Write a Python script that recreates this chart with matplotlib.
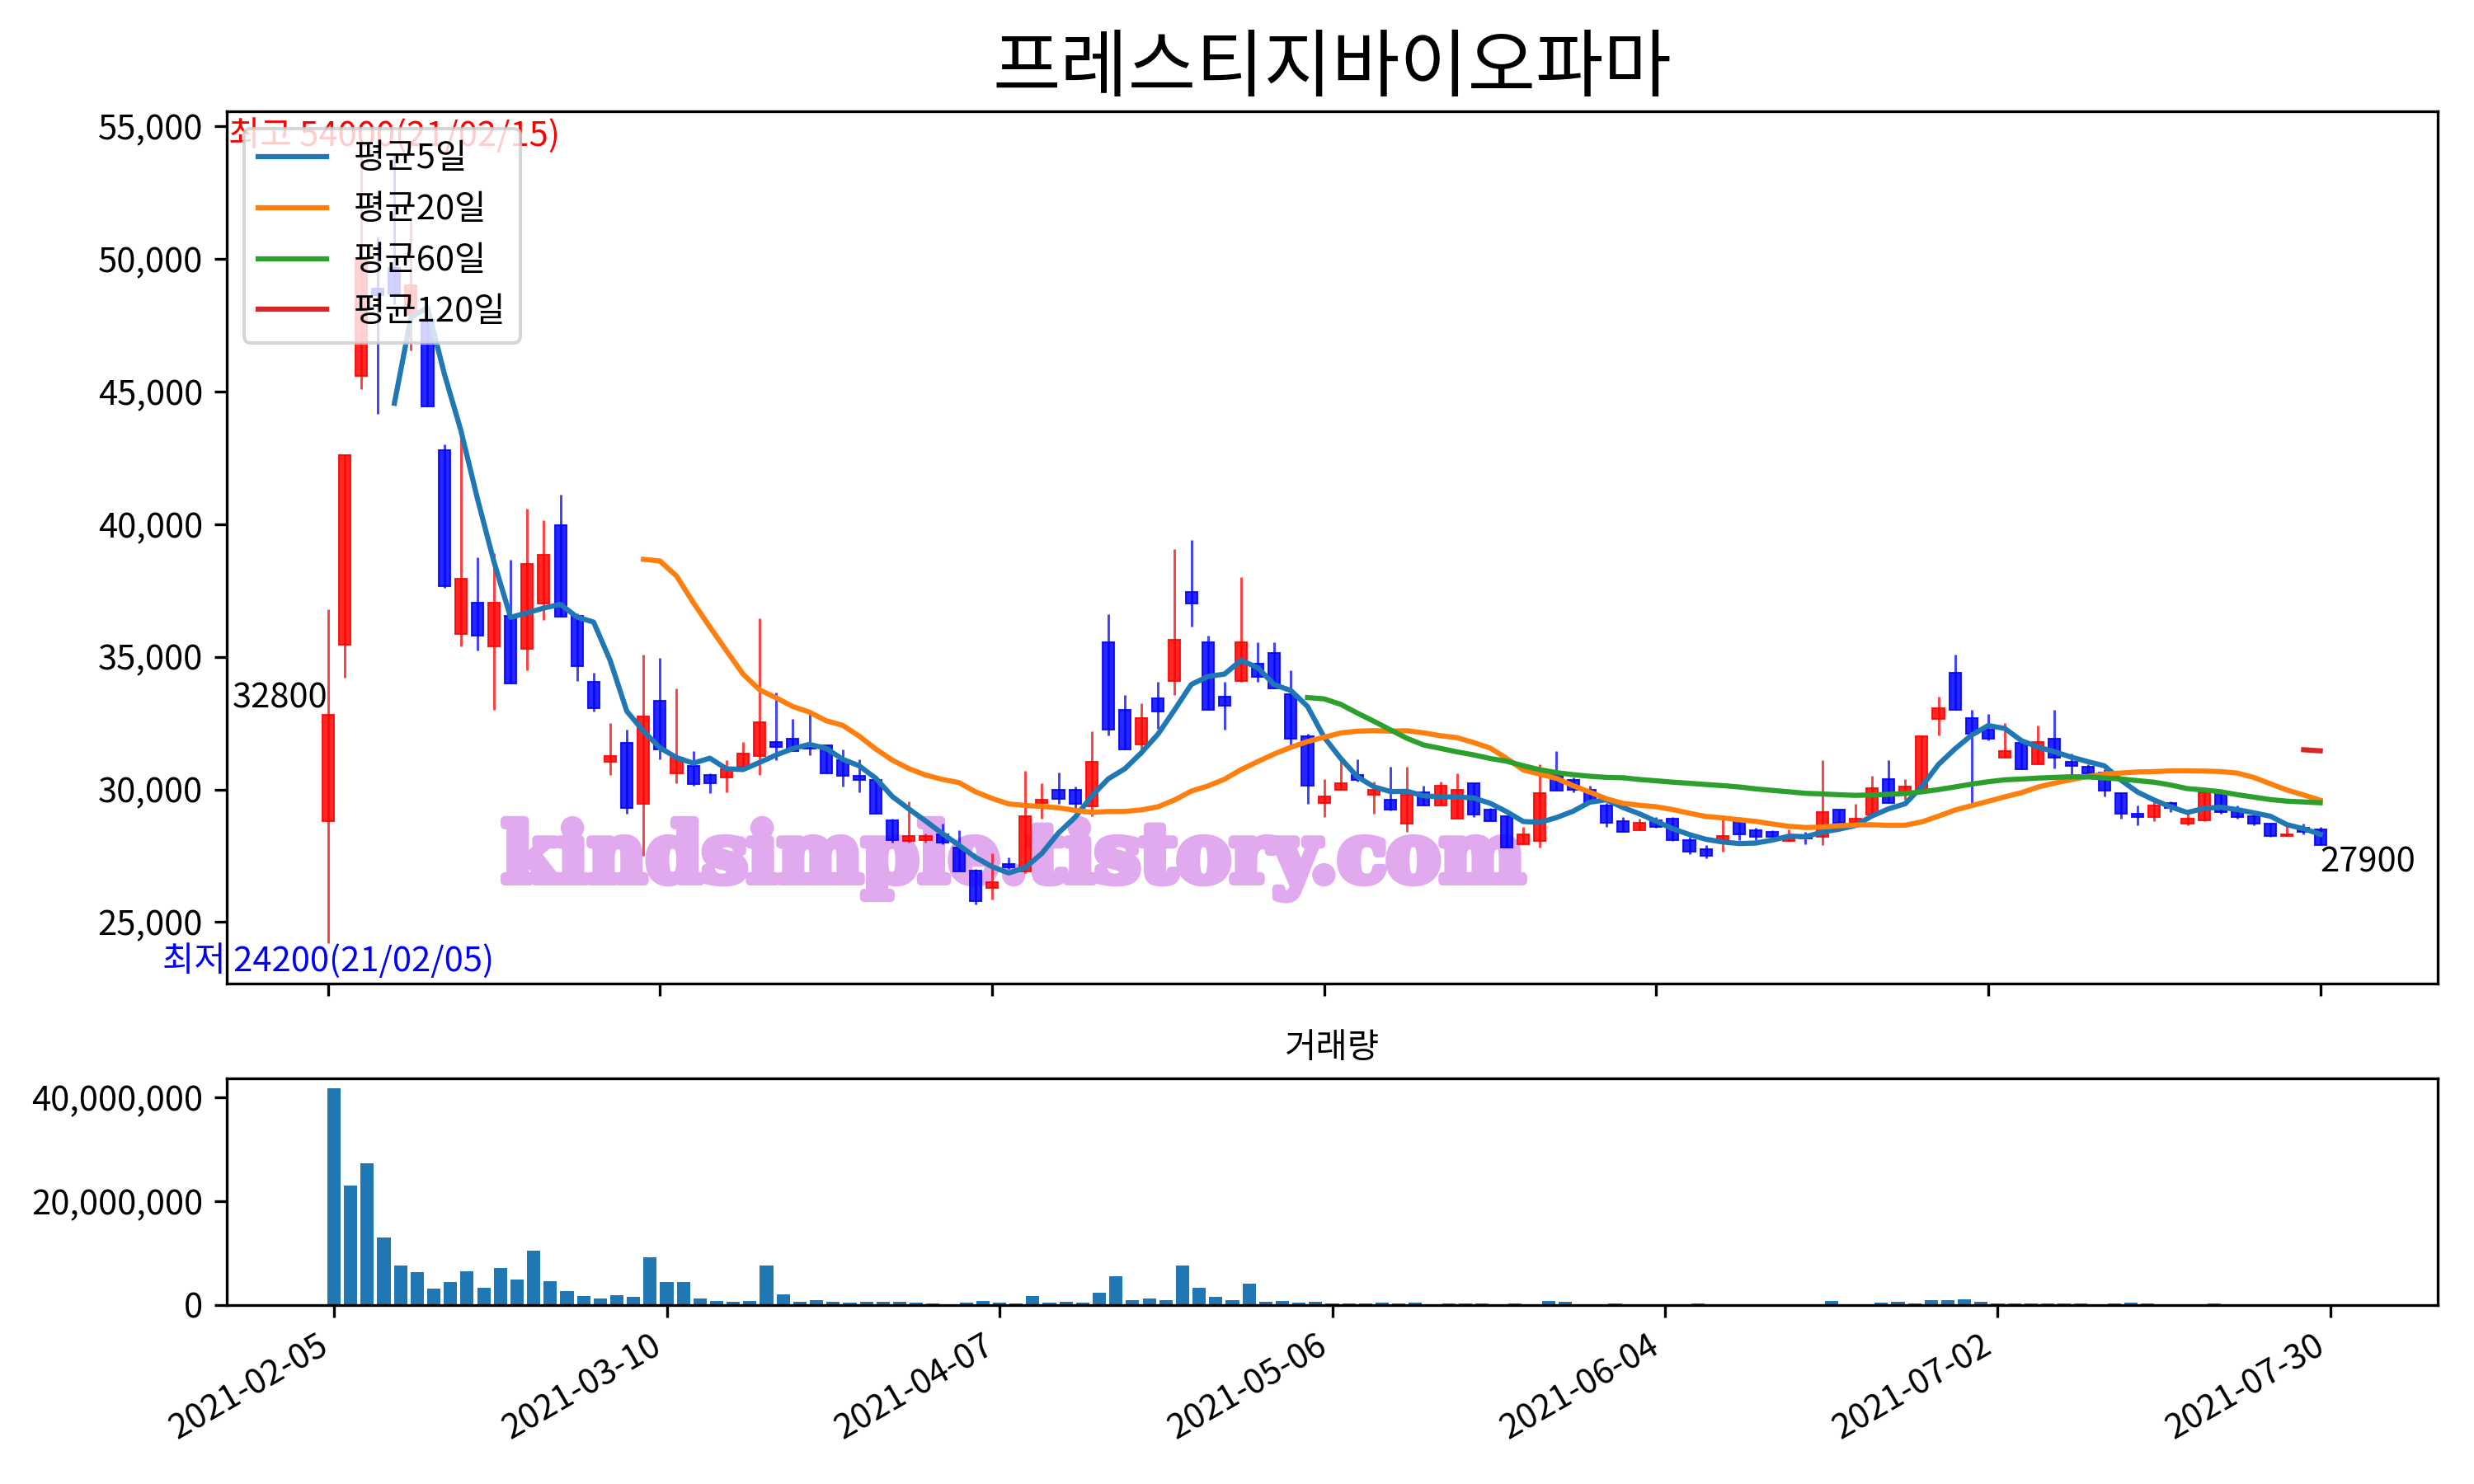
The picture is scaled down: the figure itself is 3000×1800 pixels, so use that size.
import matplotlib
matplotlib.use('Agg')
import matplotlib.pyplot as plt
import matplotlib.patheffects as pe
import numpy as np
import pandas as pd
from matplotlib.ticker import FuncFormatter

plt.rcParams['font.family'] = ['Noto Sans CJK KR', 'DejaVu Sans']
plt.rcParams['axes.unicode_minus'] = False

# ---------------- data ----------------
title = '프레스티지바이오파마'
volume_title = '거래량'
opens = [28800, 35450, 45600, 48900, 49650, 47900, 47700, 42800, 35850, 37050,
         35400, 36550, 35300, 37000, 39950, 36550, 34050, 31050, 31750, 29450,
         33350, 30600, 30900, 30550, 30450, 30850, 31250, 31800, 31900, 31700,
         31650, 31100, 30500, 30350, 28850, 28050, 28100, 28300, 27800, 26950,
         26300, 27200, 26900, 29500, 30000, 30000, 29350, 35550, 33000, 31700,
         33450, 34100, 37450, 35550, 33500, 34100, 34750, 35150, 33600, 32000,
         29500, 30000, 30550, 29800, 29600, 28700, 29900, 29400, 28900, 30250,
         29250, 29000, 27950, 28050, 30550, 30350, 30000, 29400, 28800, 28450,
         28850, 28900, 28100, 27750, 28100, 28900, 28450, 28400, 28050, 28250,
         28200, 29250, 28750, 29050, 30400, 29900, 30000, 32650, 34400, 32700,
         32250, 31200, 31750, 30950, 31900, 31050, 30850, 30650, 29850, 29100,
         28950, 29500, 28700, 28850, 29900, 29250, 29000, 28700, 28250, 28550,
         28500]
highs = [36800, 42600, 53900, 50850, 54000, 51600, 48100, 43000, 43400, 38750,
         38900, 38650, 40600, 40150, 41100, 36650, 34400, 32500, 32250, 35100,
         34950, 33800, 31450, 30600, 31100, 31800, 36450, 33650, 32650, 32850,
         31650, 31500, 31150, 30350, 28900, 29550, 28350, 28700, 28450, 27000,
         27600, 27450, 30700, 30250, 30650, 30100, 32200, 36600, 33550, 33250,
         34050, 39050, 39400, 35800, 34050, 38000, 35550, 35550, 34500, 32100,
         30400, 31100, 31150, 30300, 30850, 30850, 30150, 30300, 30600, 30250,
         29300, 29000, 28600, 30950, 31450, 30450, 30150, 29500, 28950, 28900,
         28950, 28950, 28200, 27900, 28900, 28950, 28550, 28450, 28500, 28400,
         31100, 29250, 29450, 30500, 31100, 30400, 32050, 33500, 35100, 33000,
         32850, 32500, 31750, 32400, 33000, 31350, 30950, 30750, 29850, 29400,
         29650, 29550, 29250, 30050, 29900, 29400, 29050, 28750, 28700, 28700,
         28600]
lows = [24200, 34200, 45100, 44150, 48300, 46550, 44450, 37600, 35400, 35250,
        33000, 34000, 34500, 36400, 36500, 34100, 32950, 30550, 29100, 27500,
        31150, 30250, 30150, 29850, 29900, 30850, 30550, 31100, 31450, 31300,
        30600, 30100, 29900, 29100, 28000, 28000, 28000, 27950, 26900, 25650,
        25850, 27000, 26850, 28900, 29450, 29300, 29000, 32050, 31500, 31300,
        32300, 33550, 36150, 33000, 32250, 34050, 34050, 33800, 31650, 29450,
        28950, 30000, 30300, 29100, 29200, 28400, 29400, 29400, 28900, 28950,
        28800, 27800, 27950, 27800, 29950, 29900, 29500, 28600, 28400, 28450,
        28550, 28050, 27550, 27400, 27650, 28100, 28100, 28200, 28050, 27950,
        27900, 28750, 28750, 28950, 29500, 29600, 30000, 32050, 33000, 29500,
        31850, 31200, 30750, 30950, 30800, 30500, 30600, 29750, 28900, 28650,
        28800, 29150, 28650, 28800, 29100, 28900, 28650, 28200, 28250, 28300,
        27900]
closes = [32800, 42600, 50050, 48650, 48700, 49000, 44450, 37650, 37950, 35800,
          37050, 34000, 38500, 38850, 36500, 34650, 33050, 31250, 29300, 32750,
          31500, 31200, 30200, 30250, 30750, 31350, 32550, 31600, 31450, 31550,
          30600, 30500, 30350, 29100, 28100, 28250, 28250, 28000, 26900, 25800,
          26500, 27050, 29000, 29600, 29650, 29450, 31050, 32250, 31500, 32700,
          32950, 35650, 37000, 33000, 33150, 35550, 34250, 33800, 31900, 30150,
          29750, 30250, 30350, 30000, 29250, 29800, 29400, 30150, 30000, 29050,
          28800, 27800, 28300, 29850, 29950, 30000, 29500, 28750, 28400, 28750,
          28600, 28100, 27650, 27500, 28250, 28300, 28200, 28200, 28250, 28150,
          29150, 28750, 28900, 30050, 29500, 30100, 32000, 33050, 33000, 32100,
          31900, 31450, 30750, 31800, 31200, 30900, 30600, 29950, 29100, 28950,
          29400, 29300, 28900, 29900, 29150, 28950, 28700, 28250, 28300, 28400,
          27900]
volumes = [41700000, 22900000, 27200000, 13000000, 7600000, 6300000, 3100000, 4400000, 6500000, 3300000,
           7100000, 4900000, 10500000, 4600000, 2700000, 1700000, 1200000, 1900000, 1500000, 9200000,
           4400000, 4400000, 1200000, 740000, 580000, 740000, 7600000, 2000000, 580000, 900000,
           580000, 420000, 580000, 580000, 580000, 420000, 270000, 120000, 420000, 740000,
           420000, 270000, 1700000, 420000, 580000, 420000, 2340000, 5520000, 900000, 1220000,
           900000, 7600000, 3290000, 1540000, 900000, 4090000, 580000, 740000, 420000, 580000,
           250000, 250000, 250000, 400000, 250000, 400000, 100000, 250000, 250000, 250000,
           100000, 250000, 100000, 740000, 580000, 60000, 60000, 250000, 60000, 60000,
           60000, 60000, 250000, 60000, 60000, 60000, 60000, 60000, 60000, 60000,
           740000, 60000, 60000, 400000, 580000, 250000, 900000, 900000, 1060000, 580000,
           250000, 250000, 250000, 250000, 250000, 250000, 100000, 250000, 400000, 250000,
           60000, 60000, 60000, 250000, 60000, 60000, 60000, 60000, 60000, 60000,
           60000]
tick_pos = [0, 20, 40, 60, 80, 100, 120]
tick_labels = ['2021-02-05', '2021-03-10', '2021-04-07', '2021-05-06',
               '2021-06-04', '2021-07-02', '2021-07-30']
ma_windows = [5, 20, 60, 120]
ma_labels = ['평균5일', '평균20일', '평균60일', '평균120일']
ma_colors = ['tab:blue', 'tab:orange', 'tab:green', 'tab:red']
high_label = '최고 54000(21/02/15)'
high_idx, high_val = 4, 54000
low_label = '최저 24200(21/02/05)'
low_idx, low_val = 0, 24200
watermark = 'kindsimple.tistory.com'

# ---------------- figure ----------------
fig = plt.figure(figsize=(10, 6), dpi=300)
ax = fig.add_axes([0.0917, 0.3372, 0.8936, 0.5878])
axv = fig.add_axes([0.0917, 0.1207, 0.8936, 0.1526])

x = np.arange(len(closes))
o = np.array(opens, dtype=float)
h = np.array(highs, dtype=float)
l = np.array(lows, dtype=float)
c = np.array(closes, dtype=float)
cols = np.where(c >= o, 'r', 'b')

ax.vlines(x, l, h, colors=cols, linewidth=0.7, alpha=0.75, zorder=2)
ax.bar(x, c - o, bottom=o, width=0.7, color=cols, edgecolor=cols,
       linewidth=0.5, alpha=0.85, zorder=2.1)

s = pd.Series(c)
for w, lab, col in zip(ma_windows, ma_labels, ma_colors):
    ax.plot(x, s.rolling(w).mean(), color=col, label=lab, linewidth=1.5, zorder=3)

ax.text(high_idx, high_val, high_label, color='red', ha='center', va='bottom', fontsize=10)
ax.text(low_idx, low_val, low_label, color='blue', ha='center', va='top', fontsize=10)
ax.text(x[0], c[0], f'{closes[0]}', color='black', ha='right', va='bottom', fontsize=10)
ax.text(x[-1], c[-1], f'{closes[-1]}', color='black', ha='left', va='top', fontsize=10)

wm_color = '#E2AAEE'
ax.text(0.356, 0.142, watermark, transform=ax.transAxes, ha='center', va='center',
        fontsize=23.3, family='DejaVu Serif', fontweight='bold', color=wm_color, zorder=1.5,
        path_effects=[pe.withStroke(linewidth=2.5, foreground=wm_color)])

ax.legend(loc='upper left', fontsize=10)
ax.set_title(title, fontsize=21.5)
ax.set_xlim(-6.09, 127.07)
ax.set_ylim(22680, 55570)
ax.set_xticks(tick_pos)
ax.set_xticklabels([])
fmt = FuncFormatter(lambda v, p: f'{v:,.0f}')
ax.yaxis.set_major_formatter(fmt)

axv.bar(x, volumes, width=0.8, color='C0')
axv.set_title(volume_title, fontsize=10)
axv.set_xlim(-6.44, 126.44)
axv.set_ylim(0, 43.6e6)
axv.set_xticks(tick_pos)
axv.set_xticklabels(tick_labels, rotation=30, ha='right')
axv.yaxis.set_major_formatter(fmt)

fig.savefig('out.png', dpi=300)
